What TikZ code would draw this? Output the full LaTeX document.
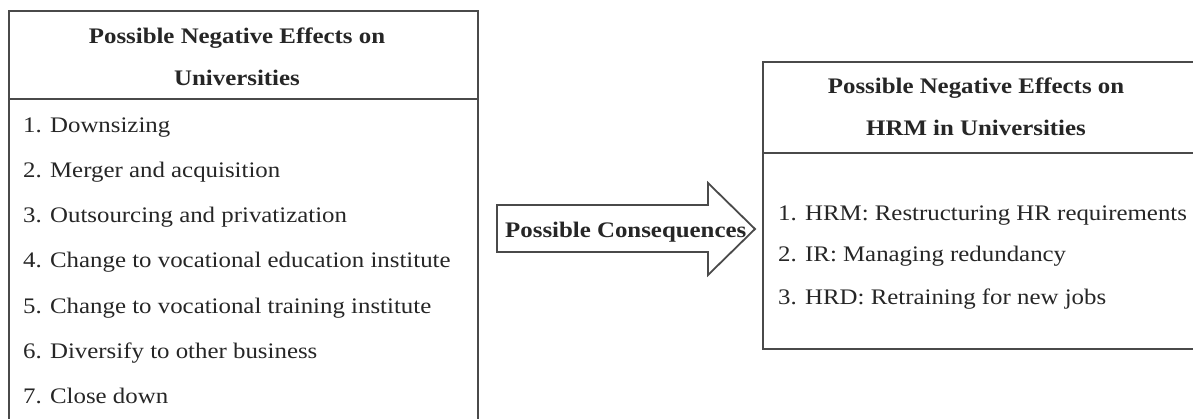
\documentclass[tikz,border=0pt]{standalone}
\usepackage{fontspec}
\setmainfont{Liberation Serif}[FakeStretch=1.12]
\usetikzlibrary{positioning}
\definecolor{edge}{HTML}{4A4A4A}
\definecolor{ink}{HTML}{262626}
\tikzset{effbox/.style={draw=edge,line width=2pt,inner sep=0pt,outer sep=0pt},effhead/.style={font=\bfseries\fontsize{22.2}{42.5}\selectfont,text=ink,align=center,inner sep=0pt},effitem/.style={font=\fontsize{22.2}{26}\selectfont,text=ink,anchor=base west,inner sep=0pt},conseqarr/.style={draw=edge,line width=1.8pt,line join=miter,fill=white}}

\begin{document}
\begin{tikzpicture}[x=1pt,y=-1pt]
\useasboundingbox[fill=white] (0,0) rectangle (1193,419);
% left side: effects on universities
\node[effbox,minimum width=469pt,minimum height=88pt] (unihead) at (243.5,55) {};
\node[effbox,minimum width=469pt,minimum height=341pt] (unilist) at (243.5,269.5) {};
\node[effhead] (unititle) at (237,57) {Possible Negative Effects on\\Universities};
\node[effitem] (u1) at (23,133) {1. Downsizing};
\node[effitem] (u2) at (23,178) {2. Merger and acquisition};
\node[effitem] (u3) at (23,223) {3. Outsourcing and privatization};
\node[effitem] (u4) at (23,268) {4. Change to vocational education institute};
\node[effitem] (u5) at (23,313) {5. Change to vocational training institute};
\node[effitem] (u6) at (23,358) {6. Diversify to other business};
\node[effitem] (u7) at (23,403) {7. Close down};
% right side: effects on HRM
\node[effbox,minimum width=437pt,minimum height=91pt] (hrmhead) at (981.5,107.5) {};
\node[effbox,minimum width=437pt,minimum height=196pt] (hrmlist) at (981.5,251) {};
\node[effhead] (hrmtitle) at (976,107) {Possible Negative Effects on\\HRM in Universities};
\node[effitem] (h1) at (778,221) {1. HRM: Restructuring HR requirements};
\node[effitem] (h2) at (778,262) {2. IR: Managing redundancy};
\node[effitem] (h3) at (778,305) {3. HRD: Retraining for new jobs};
% block arrow in between
\draw[conseqarr] (497,205) -- (708,205) -- (708,183) -- (755,229) -- (708,275) -- (708,252) -- (497,252) -- cycle;
\node[effitem,font=\bfseries\fontsize{22.2}{26}\selectfont] (conseq) at (505,238) {Possible Consequences};
\end{tikzpicture}
\end{document}
